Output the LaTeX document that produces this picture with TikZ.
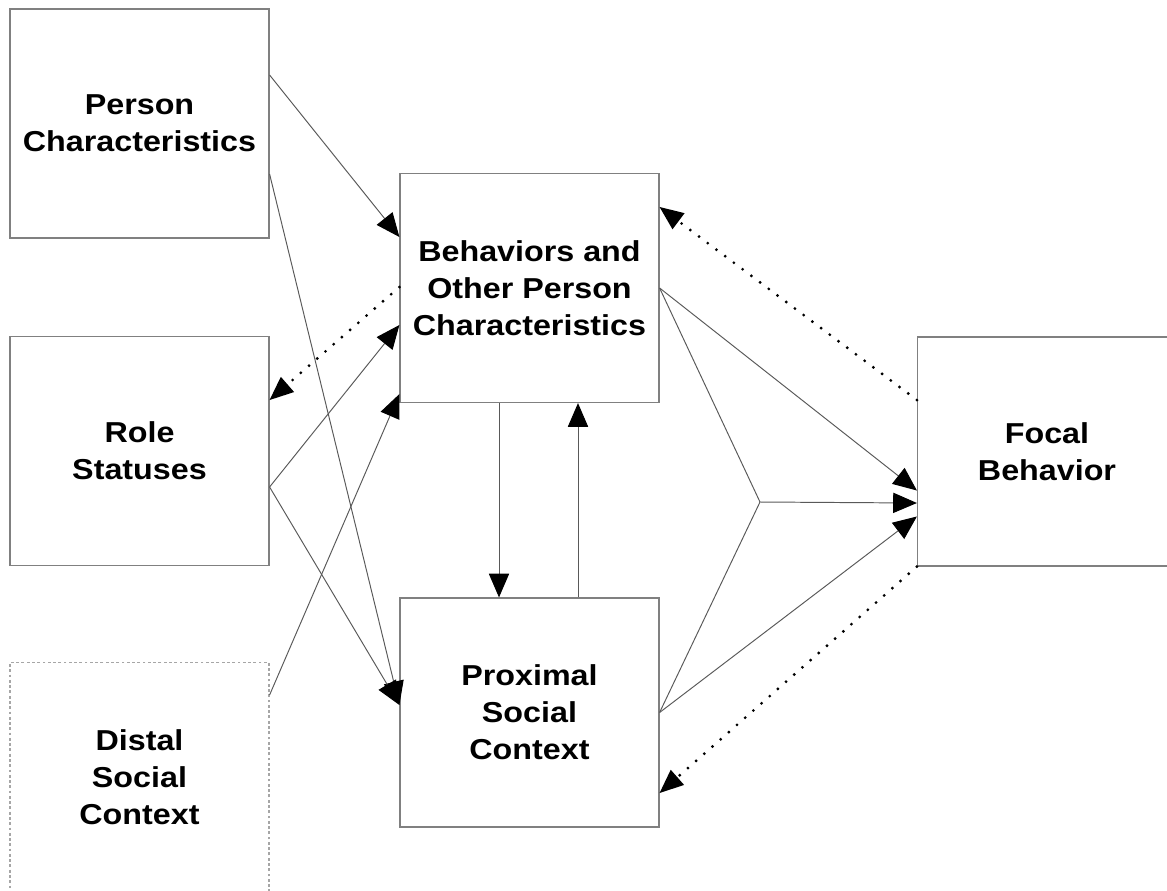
\documentclass[tikz,border=0pt]{standalone}
\usepackage{fontspec}
\setmainfont{Liberation Sans}[FakeStretch=1.12]
\usetikzlibrary{arrows.meta,calc}

\begin{document}
\begin{tikzpicture}[x=0.02cm,y=-0.02cm]
  \tikzstyle{box}=[draw=black!50,line width=0.7pt,minimum width=5.18cm,minimum height=4.58cm,inner sep=0pt,align=center,font=\fontsize{16.4}{21}\selectfont\bfseries]
  \tikzstyle{faint}=[box,draw=black!35,dash pattern=on 1.6pt off 1.4pt]
  \tikzstyle{link}=[draw=black!65,line width=0.55pt,-{Triangle[length=13.5pt,width=11.5pt,black]}]
  \tikzstyle{plain}=[draw=black!65,line width=0.55pt]
  \tikzstyle{feedback}=[line width=1.8pt,line cap=round,dash pattern=on 0pt off 6.2pt,-{Triangle[length=13.5pt,width=11.5pt,line width=0pt]}]
  \useasboundingbox (0,0) rectangle (1167,890);
  % boxes
  \node[box] (person) at (139.5,123.5) {Person\\Characteristics};
  \node[box] (role) at (139.5,451) {Role\\Statuses};
  \node[faint] (distal) at (139.5,777) {Distal\\Social\\Context};
  \node[box] (behav) at (529.5,288) {Behaviors and\\Other Person\\Characteristics};
  \node[box] (prox) at (529.5,712.5) {Proximal\\Social\\Context};
  \node[box] (focal) at (1047,451.5) {Focal\\Behavior};
  \coordinate (join) at (760,502);
  % left side
  \draw[link] ($(person.east)+(0,-48.5)$) -- ($(behav.west)+(0,-51)$);
  \draw[link] ($(person.east)+(0,50.5)$) -- ($(prox.west)+(0,-7.5)$);
  \draw[link] ($(role.east)+(0,36)$) -- ($(behav.west)+(0,37)$);
  \draw[link] ($(role.east)+(0,36)$) -- ($(prox.west)+(0,-7.5)$);
  \draw[link] ($(distal.east)+(0,-82)$) -- ($(behav.west)+(0,106)$);
  \draw[feedback] ($(behav.west)+(0,-1)$) -- ($(role.east)+(0,-51)$);
  % between the middle boxes
  \draw[link] ($(behav.south)+(-30.5,0)$) -- ($(prox.north)+(-30.5,0)$);
  \draw[link] ($(prox.north)+(48.5,0)$) -- ($(behav.south)+(48.5,0)$);
  % right side
  \draw[link] (behav.east) -- ($(focal.west)+(0,39)$);
  \draw[link] (prox.east) -- ($(focal.west)+(0,65)$);
  \draw[plain] (behav.east) -- (join);
  \draw[plain] (prox.east) -- (join);
  \draw[link] (join) -- ($(focal.west)+(0,51.5)$);
  \draw[feedback] ($(focal.west)+(0,-51.5)$) -- ($(behav.east)+(0,-81)$);
  \draw[feedback] (focal.south west) -- ($(prox.east)+(0,80.5)$);
\end{tikzpicture}
\end{document}
